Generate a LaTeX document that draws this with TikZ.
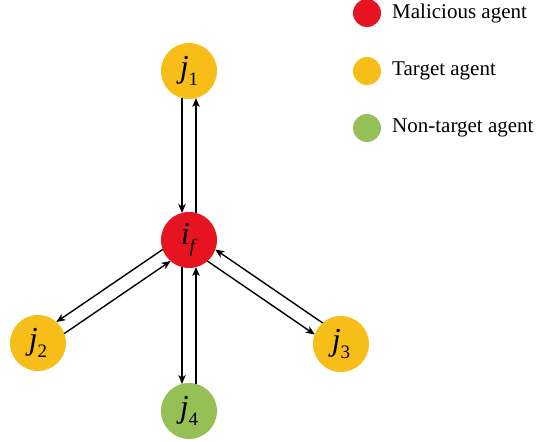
\documentclass[tikz,border=0pt]{standalone}
\usepackage{fontspec}
\setmainfont{Liberation Serif}
\usetikzlibrary{arrows.meta,calc}

\definecolor{malred}{RGB}{230,20,32}
\definecolor{taryellow}{RGB}{247,190,26}
\definecolor{nongreen}{RGB}{150,192,85}

% agent label: italic letter with a lowered index
\newcommand{\agentlab}[2]{\textit{#1}\raisebox{-8pt}{\fontsize{19}{19}\selectfont #2}}

\begin{document}
\begin{tikzpicture}[
		x = 1pt, y = 1pt,
		agent/.style = {
			shape = circle,
			minimum size = 56pt,
			inner sep = 0pt,
			font = \fontsize{32}{32}\selectfont,
		},
		key/.style = {
			shape = circle,
			minimum size = 28pt,
			inner sep = 0pt,
		},
		keytext/.style = {
			anchor = west,
			inner sep = 0pt,
			font = \fontsize{21}{22}\selectfont,
		},
		link/.style = {
			line width = 1.4pt,
			-{Stealth[length = 9pt, width = 7.5pt, inset = 2.5pt]},
			shorten < = 27pt,
			shorten > = 27pt,
		},
	]
	\useasboundingbox (0, 0) rectangle (539, 442);

	% agents
	\node (i) [agent, fill = malred] at (189, 202) {\agentlab{i}{\textit{f}}};
	\node (j1) [agent, fill = taryellow] at (189, 371) {\agentlab{j}{1}};
	\node (j2) [agent, fill = taryellow] at (38, 99) {\agentlab{j}{2}};
	\node (j3) [agent, fill = taryellow] at (341, 98) {\agentlab{j}{3}};
	\node (j4) [agent, fill = nongreen] at (189, 31) {\agentlab{j}{4}};

	% links, one each way
	\foreach \a/\b in {i/j1, j1/i, i/j2, j2/i, i/j3, j3/i, i/j4, j4/i}
		\draw [link] ($(\a)!7pt!-90:(\b)$) -- ($(\b)!7pt!90:(\a)$);

	% legend
	\node (m) [key, fill = malred] at (367, 429) {};
	\node (t) [key, fill = taryellow] at (367, 371) {};
	\node (n) [key, fill = nongreen] at (367, 314) {};
	\node (mtext) [keytext] at (392, 429) {Malicious agent};
	\node (ttext) [keytext] at (392, 371) {Target agent};
	\node (ntext) [keytext] at (392, 314) {Non-target agent};
\end{tikzpicture}
\end{document}
